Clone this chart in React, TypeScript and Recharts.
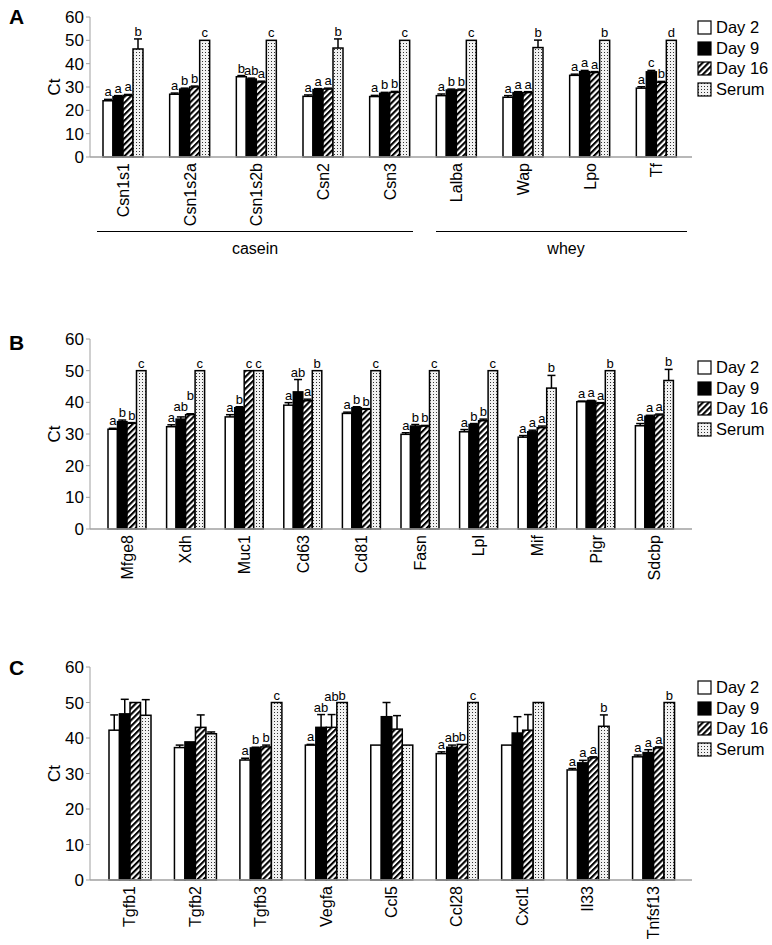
import React from 'react';
import { BarChart, Bar, XAxis, YAxis } from 'recharts';

const FONT = '"Liberation Sans", Arial, Helvetica, sans-serif';

// ---------- Panel A ----------
const catsA = ['Csn1s1', 'Csn1s2a', 'Csn1s2b', 'Csn2', 'Csn3', 'Lalba', 'Wap', 'Lpo', 'Tf'];
const day2A = [24.1, 26.9, 34.4, 26, 25.9, 26.3, 25.6, 35, 29.5];
const day9A = [25.9, 29.1, 33.4, 28.9, 27.3, 28.7, 27.6, 36.6, 36.5];
const day16A = [26.4, 30, 32.1, 29.1, 27.7, 28.7, 27.6, 36.2, 32];
const serumA = [46.3, 50, 50, 46.7, 50, 50, 46.9, 50, 50];
const err2A = [0.6, 0.5, 0.5, 0.6, 0.5, 0.7, 0.7, 0.5, 0.6];
const err9A = [0.4, 0.4, 0.4, 0.4, 0.4, 0.4, 0.4, 0.5, 0.6];
const err16A = [0.4, 0.4, 0.4, 0.4, 0.4, 0.4, 0.4, 0.4, 0.4];
const errSA = [4.3, 0, 0, 3.9, 0, 0, 3.2, 0, 0];
const let2A = ['a', 'a', 'b', 'a', 'a', 'a', 'a', 'a', 'a'];
const let9A = ['a', 'b', 'ab', 'a', 'b', 'b', 'a', 'a', 'c'];
const let16A = ['a', 'b', 'a', 'a', 'b', 'b', 'a', 'a', 'b'];
const letSA = ['b', 'c', 'c', 'b', 'c', 'c', 'b', 'b', 'd'];

// ---------- Panel B ----------
const catsB = ['Mfge8', 'Xdh', 'Muc1', 'Cd63', 'Cd81', 'Fasn', 'Lpl', 'Mif', 'Pigr', 'Sdcbp'];
const day2B = [31.5, 32.3, 35.4, 39.1, 36.5, 29.9, 30.7, 29, 40.2, 32.6];
const day9B = [33.9, 34.7, 38.3, 43.3, 38.3, 32.5, 33, 30.7, 40.4, 35.6];
const day16B = [33.4, 36.1, 50, 40.5, 37.8, 32.5, 34.2, 32, 39.7, 36];
const serumB = [50, 50, 50, 50, 50, 50, 50, 44.5, 50, 46.9];
const err2B = [0.3, 0.6, 0.7, 0.8, 0.4, 0.5, 0.7, 0.5, 0.2, 0.7];
const err9B = [0.5, 0.7, 0.3, 3.9, 0.3, 0.5, 0.3, 0.5, 0.2, 0.3];
const err16B = [0.2, 0.3, 0, 0.5, 0.2, 0.2, 0.5, 0.5, 0.2, 0.3];
const errSB = [0, 0, 0, 0, 0, 0, 0, 4, 0, 3.5];
const let2B = ['a', 'a', 'a', 'a', 'a', 'a', 'a', 'a', 'a', 'a'];
const let9B = ['b', 'ab', 'b', 'ab', 'b', 'b', 'b', 'a', 'a', 'a'];
const let16B = ['b', 'b', 'c', 'a', 'b', 'b', 'b', 'a', 'a', 'a'];
const letSB = ['c', 'c', 'c', 'b', 'c', 'c', 'c', 'b', 'b', 'b'];

// ---------- Panel C ----------
const catsC = ['Tgfb1', 'Tgfb2', 'Tgfb3', 'Vegfa', 'Ccl5', 'Ccl28', 'Cxcl1', 'Il33', 'Tnfsf13'];
const day2C = [42.2, 37.3, 33.8, 38, 38, 35.6, 38, 31, 34.7];
const day9C = [46.8, 38.9, 37.2, 43, 46, 37.4, 41.4, 33, 35.9];
const day16C = [50, 43, 37.5, 43, 42.5, 38.2, 42.2, 34.4, 37.2];
const serumC = [46.4, 41.2, 50, 50, 38, 50, 50, 43.3, 50];
const err2C = [4.3, 0.7, 0.5, 0.2, 0, 0.5, 0, 0.4, 0.5];
const err9C = [4.1, 0, 0.2, 3.6, 4, 0.6, 4.6, 0.7, 0.8];
const err16C = [0, 3.5, 0.5, 3.6, 3.8, 0, 4.4, 0.3, 0.3];
const errSC = [4.4, 0.5, 0, 0, 0, 0, 0, 3.2, 0];
const let2C = ['', '', 'a', 'a', '', 'a', '', 'a', 'a'];
const let9C = ['', '', 'b', 'ab', '', 'ab', '', 'a', 'a'];
const let16C = ['', '', 'b', 'ab', '', 'b', '', 'a', 'a'];
const letSC = ['', '', 'c', 'b', '', 'c', '', 'b', 'b'];

const seriesNames = ['Day 2', 'Day 9', 'Day 16', 'Serum'];
const yTicks = [0, 10, 20, 30, 40, 50, 60];

const KEYS = ['d2', 'd9', 'd16', 's'];
const FILLS = ['#ffffff', '#000000', 'url(#hatchDay16)', 'url(#dotsSerum)'];
const LETTER_SIZE = 13;

function buildRows(cats: string[], vals: number[][], errs: number[][], lets: string[][]) {
  return cats.map((c, i) => {
    const row: any = { name: c };
    KEYS.forEach((k, j) => {
      row[k] = vals[j][i];
      row['e' + k] = errs[j][i];
      row['l' + k] = lets[j][i];
    });
    return row;
  });
}

const rowsA = buildRows(catsA, [day2A, day9A, day16A, serumA], [err2A, err9A, err16A, errSA], [let2A, let9A, let16A, letSA]);
const rowsB = buildRows(catsB, [day2B, day9B, day16B, serumB], [err2B, err9B, err16B, errSB], [let2B, let9B, let16B, letSB]);
const rowsC = buildRows(catsC, [day2C, day9C, day16C, serumC], [err2C, err9C, err16C, errSC], [let2C, let9C, let16C, letSC]);

// letter positions for a whole group, lifting a label that would collide with its left neighbour
function labelYs(payload: any, ppu: number, zeroY: number, width: number) {
  const res: number[] = [];
  let prev: { right: number; y: number } | null = null;
  KEYS.forEach((k, i) => {
    const v = payload[k] || 0;
    const e = payload['e' + k] || 0;
    const l: string = payload['l' + k] || '';
    let ly = zeroY - (v + e) * ppu - 3;
    const cx = i * width + width / 2;
    const w = l.length * LETTER_SIZE * 0.556;
    if (l) {
      if (prev && cx - w / 2 < prev.right - 1 && Math.abs(ly - prev.y) < 11) {
        ly = Math.min(ly, prev.y - 11);
      }
      prev = { right: cx + w / 2, y: ly };
    }
    res.push(ly);
  });
  return res;
}

const makeShape = (k: string, j: number, fill: string) => (props: any) => {
  const { x, y, width, height, payload } = props;
  const v = payload[k];
  const e = payload['e' + k] || 0;
  const l = payload['l' + k] || '';
  const ppu = v ? height / v : 0;
  const topY = y - e * ppu;
  const cx = x + width / 2;
  const ly = labelYs(payload, ppu, y + height, width)[j];
  return (
    <g>
      <rect x={x} y={y} width={width} height={height} fill={fill} stroke="#000" strokeWidth={1.5} />
      {e > 0 && (
        <g>
          <line x1={cx} x2={cx} y1={y} y2={topY} stroke="#000" strokeWidth={1.5} />
          <line x1={cx - 4} x2={cx + 4} y1={topY} y2={topY} stroke="#000" strokeWidth={1.5} />
        </g>
      )}
      {l && (
        <text x={cx} y={ly} textAnchor="middle" fontSize={LETTER_SIZE} fontFamily={FONT} fill="#000">
          {l}
        </text>
      )}
    </g>
  );
};

const CatTick = (props: any) => {
  const { x, y, payload } = props;
  return (
    <text
      transform={`translate(${x},${y}) rotate(-90)`}
      textAnchor="end"
      dominantBaseline="central"
      fontSize={16}
      fontFamily={FONT}
      fill="#000"
    >
      {payload.value}
    </text>
  );
};

const CtLabel = (props: any) => {
  const { viewBox } = props;
  const cx = 54;
  const cy = viewBox.y + viewBox.height / 2;
  return (
    <text
      transform={`translate(${cx},${cy}) rotate(-90)`}
      textAnchor="middle"
      dominantBaseline="central"
      fontSize={17}
      fontFamily={FONT}
      fill="#000"
    >
      Ct
    </text>
  );
};

const Legend = ({ top }: { top: number }) => (
  <div style={{ position: 'absolute', left: 697, top, fontFamily: FONT, fontSize: 16.5 }}>
    {seriesNames.map((n, i) => (
      <div key={n} style={{ display: 'flex', alignItems: 'center', height: 20.7, whiteSpace: 'nowrap' }}>
        <svg width={15} height={15} style={{ marginRight: 4 }}>
          <rect x={1} y={1} width={13} height={13} fill={FILLS[i]} stroke="#000" strokeWidth={1.2} />
        </svg>
        <span>{n}</span>
      </div>
    ))}
  </div>
);

function Panel({
  rows, top, height, marginTop, xAxisHeight, barSize, padL, padR,
}: any) {
  return (
    <div style={{ position: 'absolute', left: 0, top }}>
      <BarChart
        width={772}
        height={height}
        data={rows}
        margin={{ top: marginTop, right: 80, bottom: 0, left: 50 }}
        barGap={0}
        barSize={barSize}
      >
        <XAxis
          dataKey="name"
          interval={0}
          tick={<CatTick />}
          tickLine={false}
          tickSize={0}
          tickMargin={6}
          height={xAxisHeight}
          axisLine={{ stroke: '#a0a0a0', strokeWidth: 1.5 }}
          padding={{ left: padL, right: padR }}
        />
        <YAxis
          width={40}
          domain={[0, 60]}
          ticks={yTicks}
          interval={0}
          tickSize={4}
          tick={{ fontSize: 17, fontFamily: FONT, fill: '#000' }}
          axisLine={{ stroke: '#a0a0a0', strokeWidth: 1 }}
          tickLine={{ stroke: '#a0a0a0' }}
          label={<CtLabel />}
        />
        {KEYS.map((k, j) => (
          <Bar
            key={k}
            dataKey={k}
            name={seriesNames[j]}
            fill={FILLS[j]}
            isAnimationActive={false}
            shape={makeShape(k, j, FILLS[j])}
          />
        ))}
      </BarChart>
    </div>
  );
}

const panelLetter = (t: string, top: number) => (
  <div
    style={{
      position: 'absolute', left: 9, top, fontFamily: FONT, fontWeight: 'bold', fontSize: 21, lineHeight: '21px',
    }}
  >
    {t}
  </div>
);

export default function App() {
  return (
    <div style={{ position: 'absolute', left: 0, top: 0, width: 772, height: 945, background: '#fff', fontFamily: FONT }}>
      <svg width={0} height={0} style={{ position: 'absolute' }}>
        <defs>
          <pattern id="hatchDay16" patternUnits="userSpaceOnUse" width={4.2} height={4.2} patternTransform="rotate(45)">
            <rect x={0} y={0} width={4.2} height={4.2} fill="#fff" />
            <rect x={0} y={0} width={2.1} height={4.2} fill="#000" />
          </pattern>
          <pattern id="dotsSerum" patternUnits="userSpaceOnUse" width={3} height={3}>
            <rect x={0} y={0} width={3} height={3} fill="#f2f2f2" />
            <rect x={1} y={1} width={1} height={1} fill="#333" />
          </pattern>
        </defs>
      </svg>

      {panelLetter('A', 6)}
      <Panel rows={rowsA} top={0} height={240} marginTop={17} xAxisHeight={83} barSize={10} padL={0} padR={2} />
      <Legend top={17} />
      <div style={{ position: 'absolute', left: 97, top: 231, width: 316, height: 0, borderTop: '1.6px solid #000' }} />
      <div style={{ position: 'absolute', left: 436, top: 231, width: 251, height: 0, borderTop: '1.6px solid #000' }} />
      <div style={{ position: 'absolute', left: 255, top: 249, transform: 'translate(-50%,-50%)', fontSize: 16 }}>casein</div>
      <div style={{ position: 'absolute', left: 566, top: 249, transform: 'translate(-50%,-50%)', fontSize: 16 }}>whey</div>

      {panelLetter('B', 332)}
      <Panel rows={rowsB} top={300} height={300} marginTop={39} xAxisHeight={71} barSize={9.5} padL={8} padR={8} />
      <Legend top={357} />

      {panelLetter('C', 657)}
      <Panel rows={rowsC} top={630} height={315} marginTop={37} xAxisHeight={65} barSize={10.5} padL={7} padR={6} />
      <Legend top={677} />
    </div>
  );
}
